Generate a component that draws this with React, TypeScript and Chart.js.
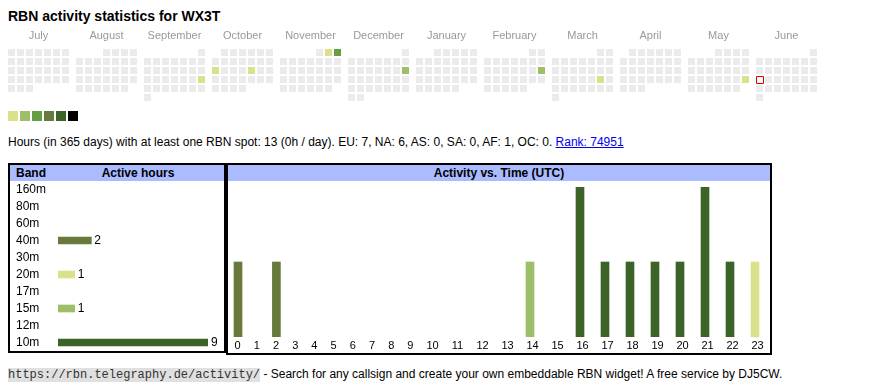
import React, { useEffect, useRef } from "react";
import { Chart, registerables } from "chart.js";

Chart.register(...registerables);

const FONT = "'Liberation Sans', Arial, Helvetica, sans-serif";

// ---------- Calendar (daily activity) ----------
const monthNames = ["July", "August", "September", "October", "November", "December", "January", "February", "March", "April", "May", "June"];
const calendarStartYear = 2024;
const calendarStartMonth = 6; // July, 0-based
const activeDates = ["2024-09-22", "2024-10-14", "2024-10-18", "2024-11-02", "2024-11-03", "2024-12-15", "2025-02-16", "2025-03-22", "2025-05-25"];
const activeLevels = [1, 1, 1, 1, 3, 2, 2, 1, 1];
const todayDate = "2025-06-16";
const levelColors = ["#ebebeb", "#d9e28b", "#9dbf69", "#64a043", "#677a3b", "#3c6328", "#000000"];

// ---------- Bands ----------
const bands = ["160m", "80m", "60m", "40m", "30m", "20m", "17m", "15m", "12m", "10m"];
const bandHours = [0, 0, 0, 2, 0, 1, 0, 1, 0, 9];
const bandColors = ["#7a4f9a", "#4f6fa8", "#5a9ab0", "#677a3b", "#b0a050", "#d9e28b", "#c08040", "#9dbf69", "#a05050", "#3c6328"];

// ---------- Activity vs. time ----------
const hourLabels = ["0", "1", "2", "3", "4", "5", "6", "7", "8", "9", "10", "11", "12", "13", "14", "15", "16", "17", "18", "19", "20", "21", "22", "23"];
const hours10m = [0, 0, 0, 0, 0, 0, 0, 0, 0, 0, 0, 0, 0, 0, 0, 0, 2, 1, 1, 1, 1, 2, 1, 0];
const hours15m = [0, 0, 0, 0, 0, 0, 0, 0, 0, 0, 0, 0, 0, 0, 1, 0, 0, 0, 0, 0, 0, 0, 0, 0];
const hours20m = [0, 0, 0, 0, 0, 0, 0, 0, 0, 0, 0, 0, 0, 0, 0, 0, 0, 0, 0, 0, 0, 0, 0, 1];
const hours40m = [1, 0, 1, 0, 0, 0, 0, 0, 0, 0, 0, 0, 0, 0, 0, 0, 0, 0, 0, 0, 0, 0, 0, 0];

// ---------- layout constants ----------
const CELL_PX = 9;
const CELL_HALF = 3.5 / CELL_PX;
const MONTH_STEP = 7 + 5 / CELL_PX;
const CAL_W = 830;
const CAL_H = 104;
const CAL_TOP_AXIS = 25;
const CAL_LEFT = 8;

const HOUR_DIGIT_PX = 5.8;
const HOUR_CELL_PAD_PX = 13.4;
const HOUR_BAR_INSET = 10;

function pad2(n: number) {
  return n < 10 ? "0" + n : String(n);
}

function noPadding(a: any) {
  a.paddingLeft = 0;
  a.paddingRight = 0;
  a.paddingTop = 0;
  a.paddingBottom = 0;
}

function buildCalendar() {
  const cells: { x: number; y: number; iso: string }[] = [];
  for (let m = 0; m < 12; m++) {
    const y = calendarStartYear + Math.floor((calendarStartMonth + m) / 12);
    const mo = (calendarStartMonth + m) % 12;
    const firstDow = (new Date(Date.UTC(y, mo, 1)).getUTCDay() + 6) % 7;
    const days = new Date(Date.UTC(y, mo + 1, 0)).getUTCDate();
    for (let d = 1; d <= days; d++) {
      const idx = firstDow + d - 1;
      cells.push({ x: m * MONTH_STEP + (idx % 7), y: Math.floor(idx / 7), iso: `${y}-${pad2(mo + 1)}-${pad2(d)}` });
    }
  }
  return cells;
}

function calendarConfig(): any {
  const cells = buildCalendar();
  const colors = cells.map((c) => {
    const k = activeDates.indexOf(c.iso);
    return k >= 0 ? levelColors[activeLevels[k]] : levelColors[0];
  });
  const today = cells.find((c) => c.iso === todayDate)!;
  const markerShift = 0.5 / CELL_PX;
  const legendPts = levelColors.slice(1).map((_, i) => ({ x: (i * 12 + 1.5) / CELL_PX, y: 7 + 0.5 / CELL_PX }));
  return {
    type: "scatter",
    data: {
      datasets: [
        {
          data: [{ x: today.x + markerShift, y: today.y + markerShift }],
          pointBackgroundColor: "#ffffff",
          pointBorderColor: "#e00000",
          pointBorderWidth: 1,
          pointStyle: "rect",
          pointRadius: 3.5 * Math.SQRT2,
        },
        {
          data: cells.map((c) => ({ x: c.x, y: c.y })),
          pointBackgroundColor: colors,
          pointStyle: "rect",
          pointRadius: 3.5 * Math.SQRT2,
          pointBorderWidth: 0,
        },
        {
          data: legendPts,
          pointBackgroundColor: levelColors.slice(1),
          pointStyle: "rect",
          pointRadius: 5 * Math.SQRT2,
          pointBorderWidth: 0,
        },
      ],
    },
    options: {
      animation: false,
      responsive: true,
      maintainAspectRatio: false,
      events: [],
      layout: { autoPadding: false, padding: { left: CAL_LEFT, right: 0, top: 0, bottom: 0 } },
      plugins: { legend: { display: false }, tooltip: { enabled: false } },
      scales: {
        x: {
          type: "linear",
          position: "top",
          offset: false,
          min: -CELL_HALF,
          max: -CELL_HALF + (CAL_W - CAL_LEFT) / CELL_PX,
          afterBuildTicks: (a: any) => {
            a.ticks = monthNames.map((_, m) => ({ value: m * MONTH_STEP + 3 }));
          },
          afterFit: (a: any) => {
            a.height = CAL_TOP_AXIS;
            noPadding(a);
          },
          ticks: {
            autoSkip: false,
            maxRotation: 0,
            padding: 6,
            color: "#999999",
            font: { size: 11, family: FONT },
            callback: (_v: any, i: number) => monthNames[i],
          },
          grid: { display: false, drawTicks: false },
          border: { display: false },
        },
        y: {
          type: "linear",
          display: false,
          offset: false,
          reverse: true,
          min: -CELL_HALF,
          max: -CELL_HALF + (CAL_H - CAL_TOP_AXIS) / CELL_PX,
        },
      },
    },
  };
}

const barValueLabels = {
  id: "barValueLabels",
  afterDatasetsDraw(chart: any) {
    const ctx = chart.ctx;
    const meta = chart.getDatasetMeta(0);
    const values = chart.data.datasets[0].data;
    ctx.save();
    ctx.font = `12px ${FONT}`;
    ctx.fillStyle = "#000";
    ctx.textBaseline = "middle";
    ctx.textAlign = "left";
    meta.data.forEach((el: any, i: number) => {
      if (values[i] > 0) ctx.fillText(String(values[i]), el.x + 3, el.y);
    });
    ctx.restore();
  },
};

function bandConfig(): any {
  return {
    type: "bar",
    data: {
      labels: bands,
      datasets: [{ data: bandHours.map((v) => (v > 0 ? v : null)), backgroundColor: bandColors, barThickness: 7, borderWidth: 0 }],
    },
    options: {
      indexAxis: "y",
      animation: false,
      responsive: true,
      maintainAspectRatio: false,
      events: [],
      layout: { autoPadding: false, padding: { left: 6, right: 16, top: 0, bottom: 0 } },
      plugins: { legend: { display: false }, tooltip: { enabled: false } },
      scales: {
        x: { display: false, min: 0, max: Math.max(...bandHours) },
        y: {
          afterFit: (a: any) => {
            a.width = 42;
            noPadding(a);
          },
          ticks: { autoSkip: false, crossAlign: "far", padding: 0, color: "#000", font: { size: 12, family: FONT } },
          grid: { display: false, drawTicks: false },
          border: { display: false },
        },
      },
    },
    plugins: [barValueLabels],
  };
}

function activityConfig(): any {
  const widths = hourLabels.map((l) => l.length * HOUR_DIGIT_PX + HOUR_CELL_PAD_PX);
  const lefts: number[] = [];
  let acc = 0;
  widths.forEach((w) => {
    lefts.push(acc);
    acc += w;
  });
  const tickCenters = lefts.map((l, i) => l + widths[i] / 2);
  const barCenters = lefts.map((l) => l + HOUR_BAR_INSET);
  const series = [
    { name: "10m", values: hours10m, color: bandColors[9] },
    { name: "15m", values: hours15m, color: bandColors[7] },
    { name: "20m", values: hours20m, color: bandColors[5] },
    { name: "40m", values: hours40m, color: bandColors[3] },
  ];
  const maxTotal = Math.max(...hourLabels.map((_, i) => series.reduce((s, d) => s + d.values[i], 0)));
  return {
    type: "bar",
    data: {
      datasets: series.map((s) => ({
        label: s.name,
        data: s.values.map((v, i) => ({ x: barCenters[i], y: v > 0 ? v : null })),
        backgroundColor: s.color,
        barThickness: 8,
        borderWidth: 0,
      })),
    },
    options: {
      animation: false,
      responsive: true,
      maintainAspectRatio: false,
      events: [],
      layout: { autoPadding: false, padding: { left: 0, right: 0, top: 6, bottom: 0 } },
      plugins: { legend: { display: false }, tooltip: { enabled: false } },
      scales: {
        x: {
          type: "linear",
          stacked: true,
          offset: false,
          min: 0,
          max: acc,
          afterBuildTicks: (a: any) => {
            a.ticks = tickCenters.map((v) => ({ value: v }));
          },
          afterFit: (a: any) => {
            a.height = 16;
            noPadding(a);
          },
          ticks: {
            autoSkip: false,
            maxRotation: 0,
            padding: 2,
            color: "#000",
            font: { size: 11, family: FONT },
            callback: (_v: any, i: number) => hourLabels[i],
          },
          grid: { display: false, drawTicks: false, offset: false },
          border: { display: false },
        },
        y: { display: false, stacked: true, min: 0, max: maxTotal },
      },
    },
  };
}

export default function App() {
  const calRef = useRef<HTMLCanvasElement>(null);
  const bandRef = useRef<HTMLCanvasElement>(null);
  const actRef = useRef<HTMLCanvasElement>(null);

  useEffect(() => {
    const charts = [
      new Chart(calRef.current!, calendarConfig()),
      new Chart(bandRef.current!, bandConfig()),
      new Chart(actRef.current!, activityConfig()),
    ];
    return () => charts.forEach((c) => c.destroy());
  }, []);

  const headerStyle: React.CSSProperties = {
    height: 16,
    lineHeight: "16px",
    background: "#aabbff",
    fontSize: 12,
    fontWeight: "bold",
    position: "relative",
    color: "#000",
  };

  return (
    <div style={{ position: "absolute", left: 0, top: 0, width: 870, height: 390, fontFamily: FONT, color: "#000", background: "#fff" }}>
      <div style={{ position: "absolute", left: 8, top: 8, fontSize: 14, fontWeight: "bold", whiteSpace: "nowrap" }}>
        RBN activity statistics for WX3T
      </div>
      <div style={{ position: "absolute", left: 0, top: 24, width: CAL_W, height: CAL_H }}>
        <canvas ref={calRef} />
      </div>
      <div style={{ position: "absolute", left: 8, top: 135, fontSize: 12, whiteSpace: "nowrap" }}>
        Hours (in 365 days) with at least one RBN spot: 13 (0h / day). EU: 7, NA: 6, AS: 0, SA: 0, AF: 1, OC: 0.{" "}
        <a href="#" style={{ color: "#0000ee" }}>Rank: 74951</a>
      </div>
      <div style={{ position: "absolute", left: 8, top: 163, width: 218, height: 190, border: "2px solid #000", boxSizing: "border-box" }}>
        <div style={headerStyle}>
          <span style={{ position: "absolute", left: 6 }}>Band</span>
          <span style={{ position: "absolute", left: 42, right: 0, textAlign: "center" }}>Active hours</span>
        </div>
        <div style={{ position: "relative", width: 214, height: 170 }}>
          <canvas ref={bandRef} />
        </div>
      </div>
      <div style={{ position: "absolute", left: 226, top: 163, width: 546, height: 192, border: "2px solid #000", boxSizing: "border-box" }}>
        <div style={{ ...headerStyle, textAlign: "center" }}>Activity vs. Time (UTC)</div>
        <div style={{ position: "relative", width: 542, height: 172 }}>
          <canvas ref={actRef} />
        </div>
      </div>
      <div style={{ position: "absolute", left: 8, top: 367, whiteSpace: "nowrap", fontSize: 12 }}>
        <code style={{ fontFamily: "'Liberation Mono', monospace", fontSize: 12, background: "#e0e0e0", color: "#333" }}>
          https://rbn.telegraphy.de/activity/
        </code>{" "}
        - Search for any callsign and create your own embeddable RBN widget! A free service by DJ5CW.
      </div>
    </div>
  );
}
